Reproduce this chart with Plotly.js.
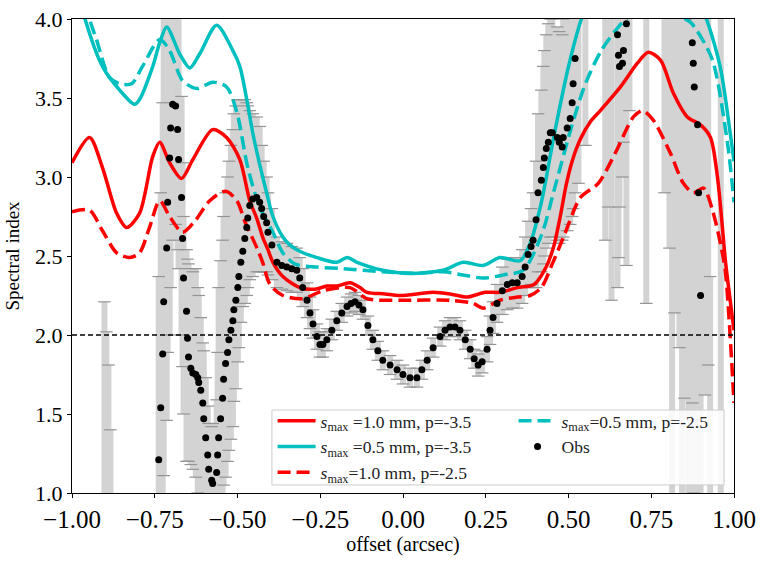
<!DOCTYPE html>
<html>
<head>
<meta charset="utf-8">
<script src="https://cdn.plot.ly/plotly-3.0.1.min.js"></script>
<style>
  html, body { margin: 0; padding: 0; background: #fff; }
  #chart { width: 763px; height: 561px; }
</style>
</head>
<body>
<div id="chart"></div>
<script>
// Spectral index profile: model curves vs. observed points with error bars.

// Models (offset in arcsec, spectral index)
const rsX = [-1.0, -0.947, -0.908, -0.865, -0.835, -0.796, -0.756, -0.735, -0.705, -0.669, -0.635, -0.575, -0.533, -0.493, -0.463, -0.442, -0.424, -0.408, -0.393, -0.363, -0.312, -0.266, -0.230, -0.200, -0.160, -0.130, -0.109, -0.054, -0.009, 0.091, 0.142, 0.194, 0.248, 0.293, 0.345, 0.396, 0.430, 0.454, 0.475, 0.493, 0.511, 0.536, 0.566, 0.596, 0.657, 0.708, 0.741, 0.778, 0.817, 0.859, 0.899, 0.929, 0.950, 0.965, 0.974, 1.0];
const rsY = [3.09, 3.25, 3.06, 2.77, 2.68, 2.77, 3.13, 3.22, 3.09, 2.99, 3.11, 3.30, 3.25, 3.11, 2.85, 2.74, 2.62, 2.54, 2.46, 2.37, 2.30, 2.29, 2.31, 2.31, 2.33, 2.30, 2.27, 2.26, 2.25, 2.27, 2.26, 2.24, 2.27, 2.27, 2.30, 2.32, 2.42, 2.55, 2.75, 2.95, 3.10, 3.24, 3.35, 3.42, 3.57, 3.72, 3.79, 3.74, 3.53, 3.38, 3.33, 3.25, 3.00, 2.68, 2.47, 2.03];

const csX = [-1.0, -0.962, -0.908, -0.856, -0.811, -0.796, -0.756, -0.735, -0.714, -0.675, -0.644, -0.614, -0.563, -0.514, -0.493, -0.472, -0.454, -0.433, -0.412, -0.393, -0.363, -0.342, -0.312, -0.260, -0.200, -0.169, -0.139, -0.061, 0.021, 0.121, 0.182, 0.242, 0.293, 0.354, 0.384, 0.418, 0.457, 0.499, 0.539, 0.620, 0.750, 0.860, 0.917, 0.959, 0.989, 1.0];
const csY = [4.35, 4.01, 3.70, 3.55, 3.46, 3.49, 3.70, 3.85, 3.95, 3.78, 3.69, 3.78, 3.96, 3.80, 3.70, 3.49, 3.28, 3.08, 2.90, 2.75, 2.62, 2.57, 2.53, 2.49, 2.46, 2.49, 2.46, 2.41, 2.39, 2.41, 2.46, 2.44, 2.49, 2.47, 2.58, 2.84, 3.27, 3.69, 4.00, 4.40, 4.50, 4.30, 4.00, 3.69, 3.27, 3.10];

const rdX = [-1.0, -0.947, -0.908, -0.865, -0.826, -0.796, -0.766, -0.735, -0.705, -0.666, -0.629, -0.584, -0.536, -0.502, -0.478, -0.463, -0.439, -0.424, -0.402, -0.363, -0.303, -0.242, -0.160, -0.109, -0.009, 0.142, 0.212, 0.242, 0.293, 0.345, 0.384, 0.418, 0.451, 0.487, 0.536, 0.590, 0.641, 0.696, 0.723, 0.756, 0.808, 0.847, 0.877, 0.908, 0.935, 0.959, 0.974, 1.0];
const rdY = [2.78, 2.79, 2.66, 2.52, 2.49, 2.52, 2.68, 2.85, 2.75, 2.65, 2.72, 2.85, 2.91, 2.85, 2.72, 2.65, 2.54, 2.46, 2.32, 2.25, 2.23, 2.28, 2.30, 2.23, 2.22, 2.22, 2.20, 2.17, 2.22, 2.24, 2.25, 2.30, 2.45, 2.63, 2.87, 2.96, 3.15, 3.38, 3.42, 3.36, 3.15, 2.96, 2.90, 2.93, 2.79, 2.58, 2.40, 1.57];

const cdX = [-1.0, -0.947, -0.926, -0.887, -0.856, -0.820, -0.787, -0.735, -0.705, -0.666, -0.623, -0.575, -0.533, -0.502, -0.469, -0.433, -0.393, -0.363, -0.327, -0.260, -0.182, -0.061, 0.042, 0.121, 0.182, 0.242, 0.303, 0.363, 0.418, 0.457, 0.508, 0.551, 0.599, 0.651, 0.684, 0.778, 0.838, 0.868, 0.887, 0.935, 0.980, 1.0];
const cdY = [4.45, 4.00, 3.87, 3.63, 3.59, 3.59, 3.70, 3.87, 3.80, 3.61, 3.56, 3.60, 3.57, 3.41, 3.06, 2.81, 2.65, 2.52, 2.45, 2.43, 2.42, 2.40, 2.39, 2.40, 2.38, 2.36, 2.38, 2.41, 2.63, 2.92, 3.31, 3.59, 3.80, 3.95, 4.02, 4.15, 4.02, 3.98, 3.93, 3.74, 3.22, 2.84];

// Observations: offset, value, lower and upper end of the error bar
const obsX = [
  -0.902, -0.896, -0.890, -0.884,
  -0.738, -0.732, -0.726, -0.723, -0.714, -0.711, -0.705, -0.702, -0.696, -0.687,
  -0.681, -0.678, -0.669, -0.666, -0.663, -0.654, -0.651, -0.648, -0.641, -0.635,
  -0.626, -0.620, -0.617, -0.611, -0.605, -0.602, -0.596, -0.590, -0.587, -0.578,
  -0.575, -0.563, -0.560, -0.557, -0.551, -0.545, -0.542, -0.536, -0.530, -0.526,
  -0.520, -0.514, -0.511, -0.505, -0.499, -0.496, -0.490, -0.484, -0.478, -0.472,
  -0.469, -0.463, -0.454, -0.442, -0.433, -0.427, -0.421, -0.412, -0.408, -0.396,
  -0.381, -0.366, -0.351, -0.336, -0.321, -0.312, -0.303, -0.290, -0.281, -0.272,
  -0.260, -0.251, -0.242, -0.230, -0.215, -0.200, -0.185, -0.169, -0.157, -0.145,
  -0.133, -0.121, -0.106, -0.091, -0.076, -0.061, -0.039, -0.018, 0.000, 0.021,
  0.042, 0.057, 0.073, 0.091, 0.112, 0.127, 0.142, 0.157, 0.172, 0.188,
  0.203, 0.215, 0.227, 0.239, 0.254, 0.263, 0.272, 0.284, 0.300, 0.315,
  0.330, 0.345, 0.360, 0.369, 0.378, 0.387, 0.393, 0.402, 0.408, 0.418,
  0.424, 0.427, 0.433, 0.439, 0.445, 0.451, 0.466, 0.472, 0.481, 0.484,
  0.496, 0.505, 0.511, 0.514, 0.520, 0.530, 0.551,
  0.611, 0.620, 0.630, 0.648, 0.651, 0.654, 0.663, 0.666, 0.675, 0.684,
  0.735,
  0.790, 0.805, 0.813, 0.820, 0.835, 0.843, 0.850, 0.862, 0.868, 0.874, 0.877, 0.880,
  0.890, 0.893, 0.899, 0.912, 0.922, 0.928, 0.960,
];
const obsY = [
  0.60, 0.50, 0.40, 0.30,
  1.21, 1.54, 1.88, 2.21, 2.55, 2.84, 3.12, 3.31, 3.46, 3.45,
  3.30, 3.11, 2.87, 2.61, 2.36, 2.15, 1.98, 1.86, 1.79, 1.76,
  1.75, 1.73, 1.70, 1.65, 1.57, 1.47, 1.35, 1.24, 1.15, 1.08,
  1.06, 1.13, 1.24, 1.35, 1.47, 1.60, 1.72, 1.82, 1.89, 1.97,
  2.03, 2.09, 2.16, 2.22, 2.30, 2.37, 2.46, 2.53, 2.61, 2.68,
  2.74, 2.82, 2.86, 2.87, 2.84, 2.80, 2.75, 2.71, 2.65, 2.57,
  2.46, 2.44, 2.43, 2.42, 2.41, 2.36, 2.30, 2.22, 2.14, 2.07,
  1.99, 1.94, 1.94, 1.97, 2.03, 2.09, 2.14, 2.18, 2.20, 2.21,
  2.19, 2.16, 2.06, 1.97, 1.90, 1.84, 1.81, 1.78, 1.75, 1.73,
  1.73, 1.78, 1.84, 1.92, 1.99, 2.03, 2.05, 2.05, 2.03, 1.97,
  1.91, 1.85, 1.81, 1.83, 1.91, 2.03, 2.11, 2.20, 2.28, 2.32,
  2.33, 2.33, 2.37, 2.43, 2.51, 2.56, 2.60, 2.73, 2.90, 2.98,
  3.06, 3.12, 3.18, 3.22, 3.28, 3.28, 3.25, 3.22, 3.19, 3.25,
  3.31, 3.37, 3.47, 3.59, 3.75, 4.10, 4.40,
  4.50, 4.60, 4.40, 3.90, 3.77, 3.70, 3.72, 3.80, 3.97, 4.30,
  4.50,
  4.60, 4.50, 4.50, 4.40, 4.30, 4.40, 4.25, 4.20, 4.02, 3.85, 3.72, 3.57,
  3.33, 2.90, 2.25, 4.50, 4.60, 0.60, 4.50,
];
const obsLo = [
  -0.6, -0.6, -0.6, -0.6,
  0.00, 0.20, 0.50, 1.11, 1.46, 1.89, 2.00, 2.30, 2.60, 2.70,
  2.54, 2.42, 2.00, 1.80, 1.50, 1.20, 1.20, 1.20, 1.18, 1.15,
  1.10, 1.00, 0.90, 0.80, 0.60, 0.50, 0.40, 0.30, 0.20, 0.20,
  0.20, 0.50, 0.50, 0.50, 0.60, 0.80, 1.05, 1.10, 1.20, 1.27,
  1.34, 1.42, 1.58, 1.66, 1.83, 1.92, 2.08, 2.18, 2.20, 2.25,
  2.30, 2.35, 2.37, 2.40, 2.40, 2.40, 2.40, 2.40, 2.38, 2.35,
  2.30, 2.29, 2.28, 2.27, 2.27, 2.23, 2.18, 2.11, 2.04, 1.98,
  1.91, 1.86, 1.86, 1.90, 1.97, 2.03, 2.08, 2.12, 2.14, 2.15,
  2.13, 2.10, 2.00, 1.91, 1.84, 1.78, 1.75, 1.72, 1.69, 1.67,
  1.67, 1.72, 1.78, 1.86, 1.93, 1.97, 1.99, 1.99, 1.97, 1.91,
  1.85, 1.79, 1.74, 1.76, 1.83, 1.94, 2.01, 2.08, 2.13, 2.16,
  2.17, 2.17, 2.20, 2.25, 2.30, 2.32, 2.30, 2.30, 2.40, 2.40,
  2.45, 2.50, 2.55, 2.58, 2.62, 2.62, 2.60, 2.58, 2.60, 2.62,
  2.66, 2.70, 2.75, 2.80, 2.90, 2.96, 3.20,
  2.60, 2.81, 2.22, 2.30, 2.49, 2.81, 3.00, 3.22, 2.44, 3.42,
  2.20,
  2.90, 2.55, 0.50, 2.14, 1.92, 0.50, 1.60, 0.50, 0.80, 1.57, 1.00, 0.60,
  0.50, 0.50, 0.50, 1.62, 1.81, -0.50, 0.50,
];
const obsHi = [
  2.21, 2.02, 1.81, 1.40,
  2.37, 2.90, 3.47, 4.30, 4.50, 4.50, 4.50, 4.50, 4.40, 4.30,
  4.20, 4.10, 3.51, 3.09, 2.75, 2.54, 2.48, 2.45, 2.42, 2.40,
  2.42, 2.30, 2.25, 2.11, 1.95, 1.90, 1.73, 1.55, 1.44, 1.42,
  1.44, 1.59, 1.89, 2.30, 2.47, 2.60, 2.75, 2.90, 3.00, 3.10,
  3.20, 3.30, 3.40, 3.45, 3.49, 3.49, 3.49, 3.49, 3.49, 3.47,
  3.45, 3.42, 3.40, 3.38, 3.32, 3.20, 3.10, 3.00, 2.90, 2.80,
  2.62, 2.59, 2.58, 2.56, 2.55, 2.49, 2.42, 2.33, 2.24, 2.16,
  2.07, 2.02, 2.02, 2.04, 2.10, 2.15, 2.20, 2.24, 2.26, 2.27,
  2.25, 2.22, 2.12, 2.03, 1.96, 1.90, 1.87, 1.84, 1.81, 1.79,
  1.79, 1.84, 1.90, 1.98, 2.05, 2.09, 2.11, 2.11, 2.09, 2.03,
  1.97, 1.91, 1.88, 1.90, 1.99, 2.12, 2.21, 2.32, 2.43, 2.48,
  2.49, 2.49, 2.54, 2.62, 2.72, 2.80, 2.90, 3.10, 3.40, 3.55,
  3.70, 3.80, 3.90, 3.97, 4.00, 4.00, 3.95, 3.92, 3.90, 4.00,
  4.10, 4.20, 4.30, 4.40, 4.50, 5.00, 5.50,
  6.00, 6.00, 6.00, 5.50, 5.30, 5.00, 5.00, 5.00, 5.50, 6.00,
  6.00,
  6.00, 6.00, 6.00, 6.00, 6.00, 6.00, 6.00, 6.00, 6.00, 6.00, 5.50, 5.50,
  5.50, 5.00, 4.50, 6.00, 6.00, 2.37, 6.00,
];

const REF_LEVEL = 2.0;
const xTicks = [-1.0, -0.75, -0.5, -0.25, 0.0, 0.25, 0.5, 0.75, 1.0];
const yTicks = [1.0, 1.5, 2.0, 2.5, 3.0, 3.5, 4.0];

const RED = "#ff0000";
const CYAN = "#00bfbf";
const SERIF = "Liberation Serif, Times New Roman, serif";
const DASH = "13px,6px";

function modelTrace(x, y, color, dashed, name, legend, group) {
    return {
        x: x, y: y, type: "scatter", mode: "lines", name: name,
        line: { color: color, width: 3.5, shape: "spline", smoothing: 0.8,
                dash: dashed ? DASH : "solid" },
        legend: legend, legendgroup: group,
    };
}

const errPlus = obsHi.map((h, i) => h - obsY[i]);
const errMinus = obsLo.map((l, i) => obsY[i] - l);

const traces = [
    // thick light-grey error bars (the shaded band)
    {
        x: obsX, y: obsY, type: "scatter", mode: "markers",
        marker: { size: 1, color: "rgba(0,0,0,0)" },
        error_y: { type: "data", symmetric: false, array: errPlus, arrayminus: errMinus,
                   color: "#d3d3d3", thickness: 6, width: 0 },
        showlegend: false, hoverinfo: "skip",
    },
    // error-bar caps
    {
        x: obsX.concat(obsX), y: obsHi.concat(obsLo), type: "scatter", mode: "markers",
        marker: { symbol: "line-ew", size: 9, line: { color: "#949494", width: 1.2 } },
        showlegend: false, hoverinfo: "skip",
    },
    modelTrace(rsX, rsY, RED, false, "<i>s</i><sub>max</sub> =1.0 mm, p=-3.5", "legend", "a"),
    modelTrace(csX, csY, CYAN, false, "<i>s</i><sub>max</sub> =0.5 mm, p=-3.5", "legend", "b"),
    modelTrace(rdX, rdY, RED, true, "<i>s</i><sub>max</sub>=1.0 mm, p=-2.5", "legend", "c"),
    modelTrace(cdX, cdY, CYAN, true, "<i>s</i><sub>max</sub>=0.5 mm, p=-2.5", "legend2", "d"),
    {
        x: obsX, y: obsY, type: "scatter", mode: "markers", name: "Obs",
        marker: { size: 7, color: "#000" },
        legend: "legend2", legendgroup: "e",
    },
];

const axisCommon = {
    showline: true, linecolor: "#000", linewidth: 1, mirror: true,
    ticks: "outside", ticklen: 4, tickwidth: 1, tickcolor: "#000",
    showgrid: false, zeroline: false,
};

const legendCommon = {
    xref: "paper", yref: "paper", xanchor: "left", yanchor: "top",
    bgcolor: "rgba(0,0,0,0)", borderwidth: 0,
    font: { family: SERIF, size: 17.5, color: "#222" },
    tracegroupgap: 0, itemwidth: 38,
};

const layout = {
    width: 763, height: 561,
    paper_bgcolor: "#fff", plot_bgcolor: "#fff",
    margin: { l: 72, r: 29, t: 19, b: 68 },
    font: { family: SERIF, color: "#000" },
    xaxis: Object.assign({}, axisCommon, {
        range: [-1, 1], tickvals: xTicks, tickformat: ".2f",
        tickfont: { family: SERIF, size: 25 },
        title: { text: "offset (arcsec)", font: { family: SERIF, size: 20 }, standoff: 2 },
    }),
    yaxis: Object.assign({}, axisCommon, {
        range: [1, 4], tickvals: yTicks, tickformat: ".1f",
        tickfont: { family: SERIF, size: 22 },
        title: { text: "Spectral index", font: { family: SERIF, size: 19 }, standoff: 10 },
    }),
    shapes: [
        { type: "line", xref: "paper", x0: 0, x1: 1, yref: "y", y0: REF_LEVEL, y1: REF_LEVEL,
          line: { color: "#000", width: 1.4, dash: "5px,3px" }, layer: "above" },
        { type: "rect", xref: "paper", yref: "paper", x0: 0.302, x1: 0.985, y0: 0.017, y1: 0.175,
          line: { color: "#cccccc", width: 1 }, fillcolor: "rgba(255,255,255,0.85)", layer: "above" },
    ],
    legend: Object.assign({}, legendCommon, { x: 0.303, y: 0.190 }),
    legend2: Object.assign({}, legendCommon, { x: 0.667, y: 0.190 }),
    showlegend: true,
};

Plotly.newPlot("chart", traces, layout, { displayModeBar: false, staticPlot: true });
</script>
</body>
</html>
